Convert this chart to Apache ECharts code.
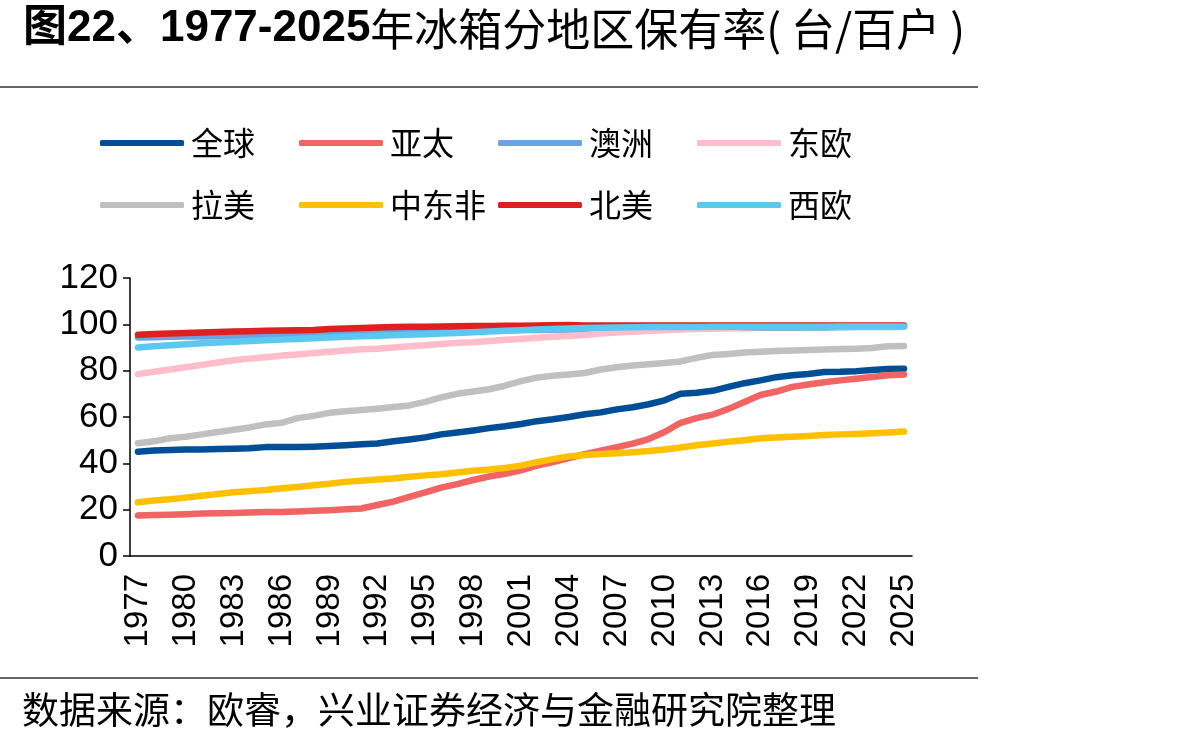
<!DOCTYPE html>
<html>
<head>
<meta charset="utf-8">
<title>冰箱分地区保有率</title>
<script src="https://cdn.jsdelivr.net/npm/echarts@6/dist/echarts.min.js"></script>
<style>
  html, body { margin: 0; padding: 0; background: #fff; }
  #main { width: 1192px; height: 744px; }
</style>
</head>
<body>
<div id="main"></div>
<script>
// 年份 1977-2025
const years = [];
for (let y = 1977; y <= 2025; y++) years.push(String(y));

const regionNames = ['全球', '亚太', '澳洲', '东欧', '拉美', '中东非', '北美', '西欧'];
const yTicks = [0, 20, 40, 60, 80, 100, 120];

// 各地区保有率（台/百户）
const global = [45, 45.5, 45.8, 46, 46, 46.2, 46.3, 46.5, 47, 47, 47, 47.2, 47.5, 47.8, 48.2, 48.6, 49.5, 50.3, 51.2, 52.5,
  53.3, 54.2, 55.2, 56, 57, 58.2, 59, 60, 61.2, 62, 63.3, 64.2, 65.5, 67.2, 70, 70.5, 71.3, 73, 74.6, 75.8,
  77.2, 78, 78.6, 79.4, 79.5, 79.8, 80.3, 80.7, 80.8];
const asiaPacific = [17.5, 17.7, 17.8, 18, 18.3, 18.5, 18.6, 18.8, 19, 19, 19.2, 19.5, 19.8, 20.2, 20.5, 22, 23.5, 25.5, 27.5, 29.5,
  31, 32.8, 34.3, 35.5, 37, 39, 40.5, 42.3, 44, 45.5, 47, 48.5, 50.5, 53.5, 57.5, 59.5, 61, 63.5, 66.5, 69.5,
  71, 73, 74, 75, 75.8, 76.5, 77.3, 78, 78.3];
const australia = [94.3, 94.4, 94.6, 94.7, 94.8, 94.9, 95, 95.2, 95.4, 95.5, 95.7, 95.8, 96, 96.1, 96.2, 96.4, 96.5, 96.6, 96.8, 96.9,
  97, 97.1, 97.2, 97.3, 97.5, 97.6, 97.7, 97.8, 97.9, 98, 98, 98.1, 98.1, 98.2, 98.2, 98.3, 98.3, 98.4, 98.4, 98.5,
  98.5, 98.5, 98.6, 98.6, 98.7, 98.8, 98.8, 98.9, 99];
const easternEurope = [78.5, 79.5, 80.5, 81.5, 82.5, 83.5, 84.5, 85.2, 85.8, 86.5, 87, 87.6, 88.2, 88.7, 89.2, 89.5, 90, 90.5, 91, 91.5,
  92, 92.3, 92.8, 93.3, 93.7, 94.2, 94.6, 95, 95.4, 96, 96.5, 96.8, 97.1, 97.5, 97.8, 98, 98.2, 98.4, 98.6, 98.8,
  98.9, 98.9, 99, 99, 99, 99, 99, 99, 99];
const latinAmerica = [48.7, 49.5, 50.8, 51.5, 52.5, 53.5, 54.5, 55.5, 56.8, 57.5, 59.5, 60.5, 61.8, 62.5, 63, 63.6, 64.3, 65, 66.5, 68.5,
  70, 71, 72, 73.5, 75.5, 77, 77.8, 78.3, 79, 80.5, 81.5, 82.2, 82.8, 83.3, 84, 85.5, 86.8, 87.2, 87.8, 88.2,
  88.5, 88.7, 88.9, 89.1, 89.3, 89.5, 89.8, 90.5, 90.6];
const middleEastAfrica = [23.2, 24, 24.5, 25.2, 26, 26.8, 27.5, 28, 28.5, 29.2, 29.8, 30.5, 31.2, 32, 32.5, 33, 33.5, 34.2, 34.8, 35.3,
  36, 36.8, 37.3, 38, 39, 40.5, 41.8, 43, 43.6, 44, 44.3, 44.8, 45.3, 46, 46.8, 47.8, 48.6, 49.3, 50, 50.8,
  51.2, 51.5, 51.8, 52.2, 52.5, 52.7, 53, 53.3, 53.7];
const northAmerica = [95.5, 95.8, 96, 96.3, 96.5, 96.7, 96.9, 97, 97.2, 97.3, 97.4, 97.6, 98, 98.2, 98.4, 98.6, 98.8, 99, 99, 99.1,
  99.2, 99.3, 99.3, 99.4, 99.4, 99.5, 99.6, 99.7, 99.5, 99.5, 99.5, 99.5, 99.5, 99.5, 99.5, 99.5, 99.5, 99.5, 99.5, 99.5,
  99.5, 99.5, 99.5, 99.5, 99.5, 99.5, 99.5, 99.5, 99.5];
const westernEurope = [90, 90.5, 91, 91.4, 91.8, 92.2, 92.5, 92.8, 93.1, 93.4, 93.7, 94, 94.3, 94.6, 94.9, 95.1, 95.3, 95.5, 95.7, 96,
  96.3, 96.6, 96.9, 97.2, 97.5, 97.8, 98, 98.2, 98.4, 98.5, 98.6, 98.7, 98.8, 98.8, 98.9, 98.9, 99, 99, 99, 99,
  99, 99, 99, 99, 99.1, 99.1, 99.1, 99.1, 99.1];

const seriesData = [global, asiaPacific, australia, easternEurope, latinAmerica, middleEastAfrica, northAmerica, westernEurope];
const colors = ['#004e96', '#f06464', '#6aa2e2', '#ffbccb', '#c0c0c0', '#ffc000', '#e02020', '#5bc8f0'];

const fontNum = '"Liberation Sans", Arial, "Noto Sans CJK SC", sans-serif';
const fontCn = '"Noto Sans CJK SC", "Liberation Sans", sans-serif';

// 图例：两行四列，每个单独摆放
const legends = regionNames.map((name, i) => ({
  data: [name],
  left: 100 + 199 * (i % 4),
  top: i < 4 ? 127 : 189,
  padding: 0,
  icon: 'roundRect',
  itemWidth: 84,
  itemHeight: 6,
  itemGap: 0,
  textStyle: { fontSize: 32, color: '#000', fontFamily: fontCn, padding: [0, 0, 0, 2] }
}));

const myChart = echarts.init(document.getElementById('main'));
myChart.setOption({
  animation: false,
  color: colors,
  title: {
    left: 18,
    top: 2,
    text: '{b|图22、1977-2025}{n|年冰箱分地区保有率( 台/百户 )}',
    textStyle: {
      rich: {
        b: { fontSize: 44, fontWeight: 'bold', fontFamily: fontNum, color: '#000' },
        n: { fontSize: 44, fontWeight: 'normal', fontFamily: fontCn, color: '#000' }
      }
    }
  },
  legend: legends,
  grid: { left: 130, right: 280, top: 278, bottom: 188, containLabel: false },
  xAxis: {
    type: 'category',
    data: years,
    boundaryGap: true,
    axisLine: { lineStyle: { color: '#000', width: 1.5 } },
    axisTick: { interval: 0, length: 7, lineStyle: { color: '#000', width: 1.5 } },
    axisLabel: { interval: 2, rotate: 90, fontSize: 33, color: '#000', fontFamily: fontNum, margin: 18 },
    splitLine: { show: false }
  },
  yAxis: {
    type: 'value',
    min: yTicks[0],
    max: yTicks[yTicks.length - 1],
    interval: 20,
    axisLine: { show: true, lineStyle: { color: '#000', width: 1.5 } },
    axisTick: { show: true, length: 7, lineStyle: { color: '#000', width: 1.5 } },
    axisLabel: { fontSize: 35, color: '#000', fontFamily: fontNum, margin: 12 },
    splitLine: { show: false }
  },
  series: regionNames.map((name, i) => ({
    name: name,
    type: 'line',
    data: seriesData[i],
    symbol: 'none',
    lineStyle: { width: 6.5, cap: 'round', join: 'round' }
  })),
  graphic: [
    { type: 'line', shape: { x1: 0, y1: 87, x2: 978, y2: 87 }, style: { stroke: '#333', lineWidth: 1.5 } },
    { type: 'line', shape: { x1: 0, y1: 678, x2: 978, y2: 678 }, style: { stroke: '#333', lineWidth: 1.5 } },
    {
      type: 'text', left: 22, top: 691,
      style: { text: '数据来源：欧睿，兴业证券经济与金融研究院整理', fontSize: 37, fill: '#000', fontFamily: fontCn }
    }
  ]
});
</script>
</body>
</html>
